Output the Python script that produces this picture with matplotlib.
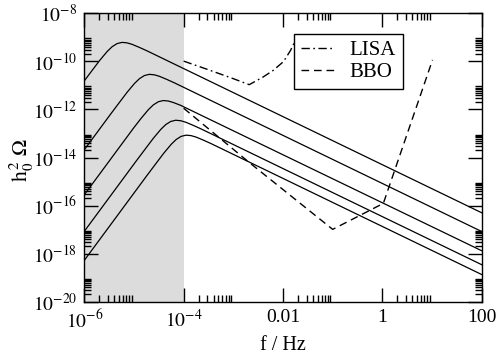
import numpy as np
import matplotlib
matplotlib.use("Agg")
import matplotlib.pyplot as plt
from matplotlib.ticker import FixedLocator, FixedFormatter, NullFormatter

plt.rcParams['font.family'] = ['Liberation Serif', 'DejaVu Serif']
plt.rcParams['mathtext.fontset'] = 'stix'

# ---- data (log10 values) ----
c1_logf = [-7.34, -6.54, -6.04, -5.84, -5.69, -5.54, -5.44, -5.34, -5.24, -5.14, -5.04, -4.89, -4.74, -4.54, -4.34, 2.0]
c1_logo = [-14.56, -12.32, -10.92, -10.37, -9.96, -9.59, -9.39, -9.26, -9.21, -9.23, -9.29, -9.42, -9.56, -9.76, -9.96, -16.30]
c2_logf = [-6.79, -5.99, -5.49, -5.29, -5.14, -4.99, -4.89, -4.79, -4.69, -4.59, -4.49, -4.34, -4.19, -3.99, -3.79, 2.0]
c2_logo = [-15.89, -13.65, -12.25, -11.70, -11.29, -10.92, -10.72, -10.59, -10.54, -10.56, -10.62, -10.75, -10.89, -11.09, -11.29, -17.08]
c3_logf = [-6.51, -5.71, -5.21, -5.01, -4.86, -4.71, -4.61, -4.51, -4.41, -4.31, -4.21, -4.06, -3.91, -3.71, -3.51, 2.0]
c3_logo = [-16.98, -14.74, -13.34, -12.78, -12.38, -12.01, -11.81, -11.68, -11.63, -11.65, -11.71, -11.83, -11.98, -12.18, -12.38, -17.88]
c4_logf = [-6.26, -5.46, -4.96, -4.76, -4.61, -4.46, -4.36, -4.26, -4.16, -4.06, -3.96, -3.81, -3.66, -3.46, -3.26, 2.0]
c4_logo = [-17.80, -15.56, -14.16, -13.61, -13.20, -12.83, -12.63, -12.50, -12.45, -12.47, -12.53, -12.66, -12.80, -13.00, -13.20, -18.46]
c5_logf = [-6.05, -5.25, -4.75, -4.55, -4.40, -4.25, -4.15, -4.05, -3.95, -3.85, -3.75, -3.60, -3.45, -3.25, -3.05, 2.0]
c5_logo = [-18.42, -16.18, -14.78, -14.23, -13.82, -13.45, -13.25, -13.12, -13.07, -13.09, -13.15, -13.28, -13.42, -13.62, -13.82, -18.87]

lisa_logf = [-4.0, -3.5, -3.0, -2.68, -2.4, -2.2, -1.99, -1.85, -1.72]
lisa_logo = [-9.99, -10.35, -10.72, -10.97, -10.65, -10.38, -10.01, -9.55, -9.0]
bbo_logf = [-4.0, -2.66, -1.0, 0.02, 1.01]
bbo_logo = [-11.95, -14.24, -16.99, -15.91, -9.94]

shade_range = [1e-6, 1e-4]
xlim = [1e-6, 100]
ylim = [1e-20, 1e-8]
xtick_vals = [1e-6, 1e-4, 1e-2, 1, 100]
xtick_labels = [r'$10^{-6}$', r'$10^{-4}$', '0.01', '1', '100']
ytick_vals = [1e-20, 1e-18, 1e-16, 1e-14, 1e-12, 1e-10, 1e-8]
ytick_labels = [r'$10^{-20}$', r'$10^{-18}$', r'$10^{-16}$', r'$10^{-14}$',
                r'$10^{-12}$', r'$10^{-10}$', r'$10^{-8}$']

W, H = 498, 354
fig = plt.figure(figsize=(W / 100, H / 100), dpi=100)
L, R, T, B = 84.3, 481.7, 13.3, 301.7
ax = fig.add_axes([L / W, 1 - B / H, (R - L) / W, (B - T) / H])
ax.set_xscale('log')
ax.set_yscale('log')
ax.set_xlim(*xlim)
ax.set_ylim(*ylim)

ax.axvspan(shade_range[0], shade_range[1], color='#dcdcdc', lw=0, zorder=0)

for lf, lo in [(c1_logf, c1_logo), (c2_logf, c2_logo), (c3_logf, c3_logo),
               (c4_logf, c4_logo), (c5_logf, c5_logo)]:
    ax.plot(np.power(10.0, lf), np.power(10.0, lo), color='black', lw=0.9, zorder=3)

ax.plot(np.power(10.0, lisa_logf), np.power(10.0, lisa_logo), color='black', lw=1.0,
        dashes=(6, 2.5, 1.2, 2.5), label='LISA', zorder=3)
ax.plot(np.power(10.0, bbo_logf), np.power(10.0, bbo_logo), color='black', lw=1.0,
        dashes=(5.5, 3.5), label='BBO', zorder=3)

ax.xaxis.set_major_locator(FixedLocator(xtick_vals))
ax.xaxis.set_major_formatter(FixedFormatter(xtick_labels))
ax.yaxis.set_major_locator(FixedLocator(ytick_vals))
ax.yaxis.set_major_formatter(FixedFormatter(ytick_labels))
xminor = [k * 10.0 ** n for n in (-6, -4, -2, 0) for k in range(2, 10)]
yminor = [k * 10.0 ** n for n in (-20, -18, -16, -14, -12, -10) for k in range(2, 10)]
ax.xaxis.set_minor_locator(FixedLocator(xminor))
ax.yaxis.set_minor_locator(FixedLocator(yminor))
ax.xaxis.set_minor_formatter(NullFormatter())
ax.yaxis.set_minor_formatter(NullFormatter())

ax.tick_params(which='both', direction='in', top=True, right=True, width=1.0,
               labelsize=14, colors='black')
ax.tick_params(which='major', length=10, pad=5)
ax.tick_params(which='minor', length=5)
for s in ax.spines.values():
    s.set_linewidth(1.0)

ax.set_xlabel('f / Hz', fontsize=14.5)
ax.xaxis.set_label_coords(0.5, -(335.5 - B) / (B - T))
ax.set_ylabel(r'$\mathrm{h}_0^{\,2}\ \Omega$', fontsize=15.5)
ax.yaxis.set_label_coords((36 - L) / (R - L), 1 - (160 - T) / (B - T))

leg = ax.legend(loc='upper left', bbox_to_anchor=((294 - L) / (R - L), 1 - (34 - T) / (B - T)),
                borderaxespad=0, frameon=True, fancybox=False, framealpha=1,
                edgecolor='black', fontsize=15, handlelength=1.6, handletextpad=0.75,
                borderpad=0.32, labelspacing=0.12)
leg.get_frame().set_linewidth(1.0)

fig.savefig('out.png', dpi=100)
